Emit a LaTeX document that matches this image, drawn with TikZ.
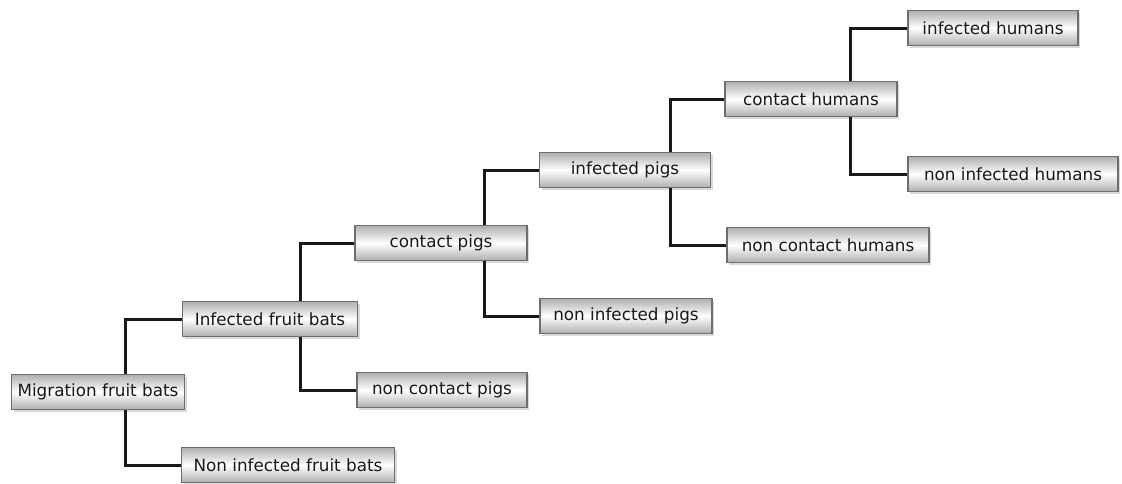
\documentclass[tikz,border=0pt]{standalone}
\usepackage{fontspec}
\setmainfont{DejaVu Sans}
\usetikzlibrary{shadows}
\definecolor{boxedge}{RGB}{110,110,110}
\definecolor{boxgray}{RGB}{175,175,175}
\tikzset{
  box/.style={draw=boxedge, line width=1.6pt, top color=boxgray, bottom color=boxgray, middle color=white,
    minimum height=35pt, minimum width=170pt, inner sep=0pt, font=\fontsize{16.8}{19}\selectfont, text=black!90,
    drop shadow={shadow xshift=2pt, shadow yshift=-2pt, fill=black!25, opacity=0.6}},
  link/.style={line width=3pt, draw=black!90}
}
\begin{document}
\begin{tikzpicture}[x=1pt,y=-1pt]
\useasboundingbox (0,0) rectangle (1122,483);
\node[box, minimum width=173pt] (mig) at (98,392) {Migration fruit bats};
\node[box, minimum width=213pt] (nifb) at (288,465) {Non infected fruit bats};
\node[box, minimum width=175pt] (ifb) at (270,319) {Infected fruit bats};
\node[box, minimum width=170pt] (ncp) at (442,390) {non contact pigs};
\node[box, minimum width=172pt] (cp) at (441,243) {contact pigs};
\node[box, minimum width=172pt] (nip) at (626,316) {non infected pigs};
\node[box, minimum width=171pt] (ip) at (625,170) {infected pigs};
\node[box, minimum width=202pt] (nch) at (828,245) {non contact humans};
\node[box, minimum width=172pt] (ch) at (811,99) {contact humans};
\node[box, minimum width=170pt] (ih) at (993,28) {infected humans};
\node[box, minimum width=210pt] (nih) at (1013,174) {non infected humans};
\draw[link] ([xshift=27pt]mig.north) |- (ifb.west);
\draw[link] ([xshift=27pt]mig.south) |- (nifb.west);
\draw[link] ([xshift=30pt]ifb.north) |- (cp.west);
\draw[link] ([xshift=30pt]ifb.south) |- (ncp.west);
\draw[link] ([xshift=43pt]cp.north) |- (ip.west);
\draw[link] ([xshift=43pt]cp.south) |- (nip.west);
\draw[link] ([xshift=45pt]ip.north) |- (ch.west);
\draw[link] ([xshift=45pt]ip.south) |- (nch.west);
\draw[link] ([xshift=39pt]ch.north) |- (ih.west);
\draw[link] ([xshift=39pt]ch.south) |- (nih.west);
\end{tikzpicture}
\end{document}
